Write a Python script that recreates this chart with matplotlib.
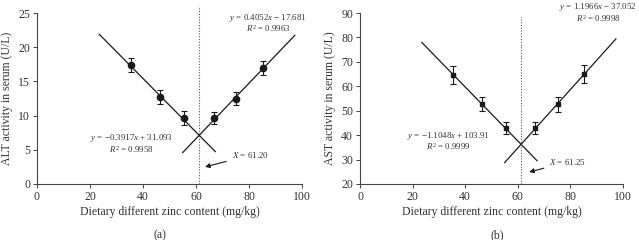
import matplotlib
matplotlib.use("Agg")
import matplotlib.pyplot as plt
import numpy as np

plt.rcParams['font.family'] = ['Liberation Serif', 'DejaVu Serif']
plt.rcParams['mathtext.fontset'] = 'custom'
plt.rcParams['mathtext.rm'] = 'Liberation Serif'
plt.rcParams['mathtext.it'] = 'Liberation Serif:italic'

# Data
zinc = [35.5, 46.3, 55.5, 66.7, 75.2, 85.3]
alt = [17.4, 12.7, 9.6, 9.6, 12.5, 17.0]
alt_err = [1.0, 1.0, 1.0, 0.9, 0.9, 1.0]
ast = [64.8, 52.8, 42.8, 42.8, 52.6, 65.0]
ast_err = [3.7, 3.0, 2.4, 2.4, 3.0, 3.7]

alt_left_fit = (-0.3917, 31.093)
alt_right_fit = (0.4052, -17.681)
ast_left_fit = (-1.1048, 103.91)
ast_right_fit = (1.1966, -37.052)
alt_break = 61.20
ast_break = 61.25

left_range = [23.5, 67.3]
right_range = [55.0, 97.3]

fig = plt.figure(figsize=(6.39, 2.4), dpi=100)
axa = fig.add_axes([37/639, 1-184/240, 265/639, 171/240])
axb = fig.add_axes([360/639, 1-184/240, 263/639, 171/240])

c = '#1a1a1a'
tc = '#333333'

def style(ax, ylim, yticks, ylabel):
    ax.set_xlim(0, 100)
    ax.set_ylim(*ylim)
    ax.set_xticks(range(0, 101, 20))
    ax.set_yticks(yticks)
    for s in ['top', 'right']:
        ax.spines[s].set_visible(False)
    for s in ['left', 'bottom']:
        ax.spines[s].set_color('#444444')
        ax.spines[s].set_linewidth(0.8)
    ax.tick_params(direction='out', length=3, width=0.7, colors='#444444',
                   labelsize=8.5, labelcolor=tc, pad=2)
    ax.set_xlabel('Dietary different zinc content (mg/kg)', fontsize=8.5, color=tc, labelpad=2)
    ax.set_ylabel(ylabel, fontsize=8.5, color=tc, labelpad=4)

def draw(ax, y, yerr, marker, ms, lf, rf, xb, ytop):
    ax.errorbar(zinc, y, yerr=yerr, fmt=marker, color=c, ms=ms, capsize=2,
                elinewidth=0.8, capthick=0.8, zorder=3)
    xl = np.array(left_range)
    xr = np.array(right_range)
    ax.plot(xl, lf[0]*xl + lf[1], color=c, lw=0.9)
    ax.plot(xr, rf[0]*xr + rf[1], color=c, lw=0.9)
    ax.plot([xb, xb], [ax.get_ylim()[0], ytop], color='#555555', lw=0.8,
            ls=(0, (1, 1.5)), clip_on=False)

style(axa, (0, 25), range(0, 26, 5), 'ALT activity in serum (U/L)')
draw(axa, alt, alt_err, 'o', 4.5, alt_left_fit, alt_right_fit, alt_break, 26.0)
style(axb, (20, 90), range(20, 91, 10), 'AST activity in serum (U/L)')
draw(axb, ast, ast_err, 's', 3.2, ast_left_fit, ast_right_fit, ast_break, 88.5)

fs = 6.4
# Panel a annotations
axa.text(87.2, 24.3, r'$y$ = 0.4052$x$ − 17.681', ha='center', va='center', fontsize=fs, color=tc)
axa.text(87.2, 22.7, r'$R^2$ = 0.9963', ha='center', va='center', fontsize=fs, color=tc)
axa.text(35.7, 6.7, r'$y$ = −0.3917$x$ + 31.093', ha='center', va='center', fontsize=fs, color=tc)
axa.text(35.7, 5.0, r'$R^2$ = 0.9958', ha='center', va='center', fontsize=fs, color=tc)
axa.annotate(r'$X$ = 61.20', xy=(63.4, 2.5), xytext=(73.5, 4.2), ha='left', va='center',
             fontsize=fs, color=tc,
             arrowprops=dict(arrowstyle='-|>', color=c, lw=0.8, mutation_scale=7,
                             shrinkA=2, shrinkB=0))

# Panel b annotations
axb.text(90.6, 92.4, r'$y$ = 1.1966$x$ − 37.052', ha='center', va='center', fontsize=fs, color=tc, clip_on=False)
axb.text(90.6, 87.9, r'$R^2$ = 0.9998', ha='center', va='center', fontsize=fs, color=tc)
axb.text(33.6, 39.8, r'$y$ = −1.1048$x$ + 103.91', ha='center', va='center', fontsize=fs, color=tc)
axb.text(33.6, 35.4, r'$R^2$ = 0.9999', ha='center', va='center', fontsize=fs, color=tc)
axb.annotate(r'$X$ = 61.25', xy=(64.3, 24.9), xytext=(72.0, 29.0), ha='left', va='center',
             fontsize=fs, color=tc,
             arrowprops=dict(arrowstyle='-|>', color=c, lw=0.8, mutation_scale=7,
                             shrinkA=2, shrinkB=0))

fig.text(160/639, 1-235/240, '(a)', ha='center', va='center', fontsize=8.5, color=tc)
fig.text(497/639, 1-235/240, '(b)', ha='center', va='center', fontsize=8.5, color=tc)

fig.savefig('out.png', dpi=100)
